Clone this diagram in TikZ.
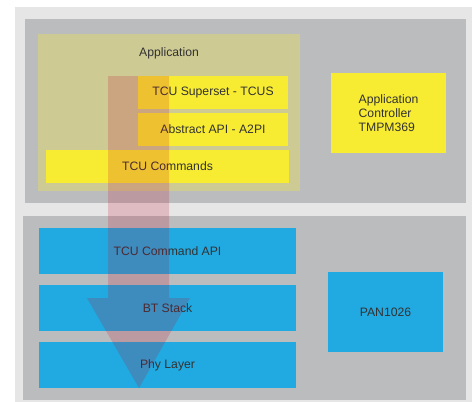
\documentclass[tikz,border=0pt]{standalone}
\usepackage{fontspec}
\setmainfont{Liberation Sans}
\usetikzlibrary{positioning}
\definecolor{bggray}{RGB}{230,230,230}
\definecolor{panelgray}{RGB}{187,188,190}
\definecolor{appyellow}{RGB}{248,236,50}
\definecolor{layerblue}{RGB}{33,169,225}
\definecolor{labelgray}{RGB}{50,50,50}
\definecolor{flowred}{RGB}{191,10,44}
\tikzstyle{module} = [
  fill=appyellow,
  rectangle,
  minimum height=33pt,
  inner sep=0pt,
  text=labelgray,
  align=center,
]
\tikzstyle{chip} = [
  rectangle,
  minimum width=115pt,
  minimum height=80pt,
  inner sep=0pt,
  text=labelgray,
  align=left,
]
\tikzstyle{layer} = [
  fill=layerblue,
  rectangle,
  minimum width=257pt,
  minimum height=46pt,
  inner sep=0pt,
  text=labelgray,
]
\tikzstyle{flow} = [
  fill=flowred,
  fill opacity=0.19,
]

\begin{document}
\begin{tikzpicture}[
    x=1pt,
    y=-1pt,
    font=\fontsize{12.2}{14}\selectfont,
    node distance=37pt,
  ]
  \useasboundingbox (0,0) rectangle (472,402);
  % panels
  \fill[bggray] (15,7) rectangle (472,402);
  \fill[panelgray] (25,19) rectangle (466,203);
  \fill[panelgray] (23,216) rectangle (466,400);
  % host side
  \fill[appyellow, opacity=0.3] (38,34) rectangle (300,191);
  \node[text=labelgray] (applabel) at (169,53) {Application};
  \node[module, minimum width=150pt]
  (tcus) at (213,92.5) {TCU Superset - TCUS};
  \node[module, minimum width=150pt, below of=tcus]
  (a2pi) {Abstract API - A2PI};
  \node[module, minimum width=243pt]
  (tcucmd) at (167.5,166.5) {TCU Commands};
  \node[chip, fill=appyellow]
  (ctrl) at (388.5,113) {Application\\Controller\\TMPM369};
  % module side
  \node[layer]
  (cmdapi) at (167.5,251) {TCU Command API};
  \node[layer, below of=cmdapi, node distance=57pt]
  (btstack) {BT Stack};
  \node[layer, below of=btstack, node distance=57pt]
  (phy) {Phy Layer};
  \node[chip, fill=layerblue, align=center]
  (pan) at (385.5,312) {PAN1026};
  % flow arrow
  \fill[flow] (108,76) -- (169,76) -- (169,298) -- (190,298)
    -- (139,388) -- (87,298) -- (108,298) -- cycle;
\end{tikzpicture}
\end{document}
